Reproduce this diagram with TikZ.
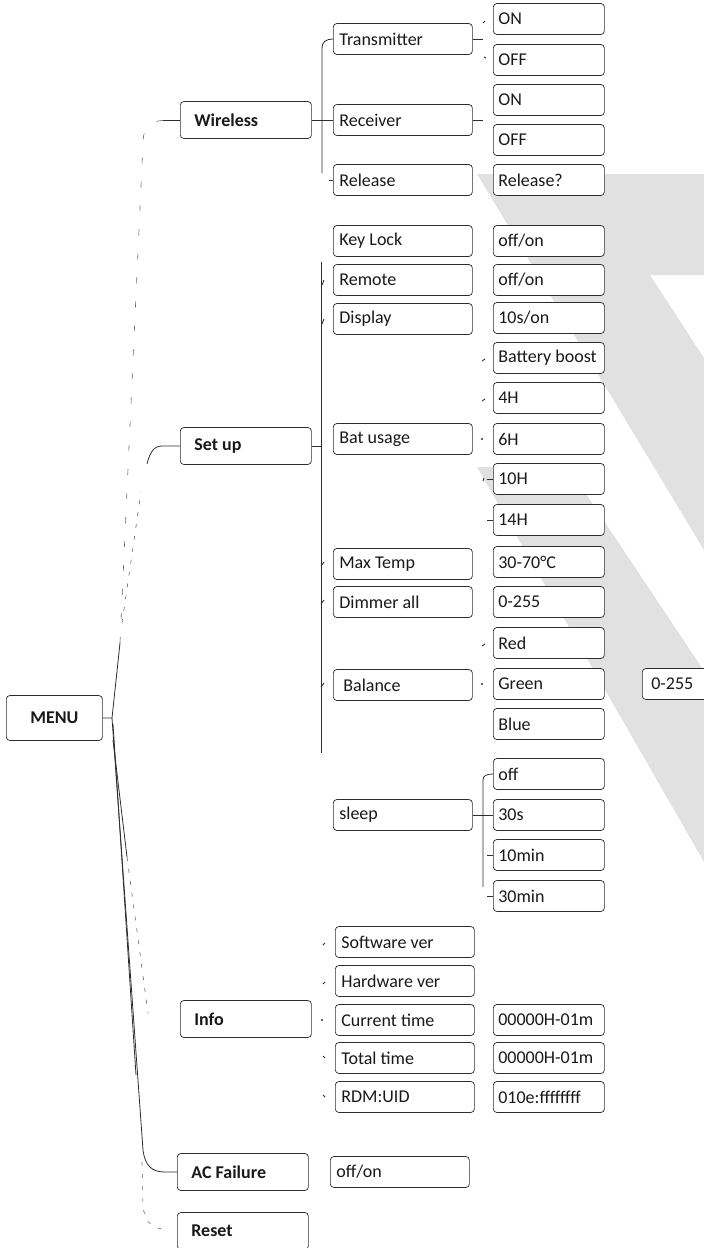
\documentclass[tikz,border=0pt]{standalone}
\usepackage{fontspec}
\setmainfont{Carlito}
\definecolor{bandgray}{RGB}{225,225,225}
\definecolor{ink}{RGB}{45,45,45}

\begin{document}
\begin{tikzpicture}[x=1pt,y=-1pt,
  box/.style={draw=ink,fill=white,line width=0.7pt,rounded corners=3.5pt,anchor=west,align=flush left,
    minimum height=31pt,inner ysep=0pt,text=black!90,font=\fontsize{18}{20}\selectfont},
  menubox/.style={box,font=\fontsize{18}{20}\bfseries\selectfont,minimum height=45pt,inner xsep=0pt,text width=96pt,align=flush center},
  headbox/.style={box,font=\fontsize{18}{20}\bfseries\selectfont,minimum height=37pt,inner xsep=14pt,text width=103pt},
  itembox/.style={box,inner xsep=6pt,text width=127pt},
  valbox/.style={box,inner xsep=5pt,text width=101pt},
  link/.style={draw=ink,line width=0.8pt},
  tick/.style={draw=ink,line width=0.9pt},
  faint/.style={draw=black!60,line width=0.6pt,dash pattern=on 6pt off 18pt},
  speck/.style={draw=black!60,line width=0.6pt,dash pattern=on 4pt off 8pt}]
\path[use as bounding box] (0,0) rectangle (704,1248);
\clip (0,0) rectangle (704,1248);
% GREY BANDS
\fill[bandgray] (477,174) -- (704,174) -- (704,275) -- (650,275) -- (704,358) -- (704,550) -- cycle;
\fill[bandgray] (477,467) -- (568,467) -- (704,671) -- (704,862) -- cycle;
% ROOT
\node[menubox] (menu) at (6,718) {MENU};
% MAIN BRANCHES
\node[headbox] (wireless) at (180,120) {Wireless};
\node[headbox] (setup) at (180,446) {Set up};
\node[headbox] (info) at (180,1019) {Info};
\node[headbox] (acfail) at (177,1172) {AC Failure};
\node[headbox] (reset) at (177,1231) {Reset};
% WIRELESS ITEMS
\node[itembox] (transmitter) at (333,39) {Transmitter};
\node[itembox] (receiver) at (333,120) {Receiver};
\node[itembox] (release) at (333,180) {Release};
\node[valbox] (txon) at (493,19) {ON};
\node[valbox] (txoff) at (493,60) {OFF};
\node[valbox] (rxon) at (493,100) {ON};
\node[valbox] (rxoff) at (493,140) {OFF};
\node[valbox] (relask) at (493,180) {Release?};
% SET UP ITEMS
\node[itembox] (keylock) at (333,241) {Key Lock};
\node[itembox] (remote) at (333,280) {Remote};
\node[itembox] (display) at (333,319) {Display};
\node[itembox] (batusage) at (333,439) {Bat usage};
\node[itembox] (maxtemp) at (333,564) {Max Temp};
\node[itembox] (dimmer) at (333,602) {Dimmer all};
\node[itembox] (balance) at (333,685) {\hspace*{4pt}Balance};
\node[itembox] (sleep) at (333,815) {sleep};
\node[valbox] (keyval) at (493,241) {off/on};
\node[valbox] (remval) at (493,280) {off/on};
\node[valbox] (dispval) at (493,318) {10s/on};
\node[valbox] (bboost) at (493,358) {Battery boost};
\node[valbox] (hfour) at (493,398) {4H};
\node[valbox] (hsix) at (493,439) {6H};
\node[valbox] (hten) at (493,479) {10H};
\node[valbox] (hfourteen) at (493,520) {14H};
\node[valbox] (tempval) at (493,562) {30-70°C};
\node[valbox] (dimval) at (493,602) {0-255};
\node[valbox] (red) at (493,643) {Red};
\node[valbox] (green) at (493,684) {Green};
\node[valbox] (blue) at (493,724) {Blue};
\node[valbox] (balval) at (642,684) {\hspace*{4pt}0-255};
\node[valbox] (slpoff) at (493,774) {off};
\node[valbox] (slpthirty) at (493,815) {30s};
\node[valbox] (slpten) at (493,855) {10min};
\node[valbox] (slpthirtymin) at (493,896) {30min};
% INFO ITEMS
\node[itembox] (swver) at (335,942) {Software ver};
\node[itembox] (hwver) at (335,981) {Hardware ver};
\node[itembox] (curtime) at (335,1020) {Current time};
\node[itembox] (tottime) at (335,1058) {Total time};
\node[itembox] (rdmuid) at (335,1097) {RDM:UID};
\node[valbox] (curval) at (493,1020) {00000H-01m};
\node[valbox] (totval) at (493,1058) {00000H-01m};
\node[valbox] (uidval) at (493,1097) {010e:ffffffff};
\node[itembox] (acval) at (330,1172) {off/on};
% ROOT CONNECTORS
\coordinate (hub) at (112,718);
\coordinate (upend) at (120,643);
\coordinate (infoend) at (148,1013);
\draw[link] (menu.east) -- (hub) -- (upend);
\draw[faint,rounded corners=18pt] (upend) -- (144,121) -- (wireless.west);
\draw[link] (wireless.west) -- ++(-17,0);
\draw[speck] (upend) ++(2,-20) -- (141,492);
\draw[link] (147,464) .. controls (150,452) and (154,446) .. (162,446) -- (setup.west);
\draw[link] (hub) -- (143,1150) .. controls (145,1166) and (152,1172) .. (165,1172) -- (acfail.west);
\draw[link] (hub) ++(1,6) -- (136,1075);
\draw[link] (hub) ++(1,22) -- (127,857);
\draw[speck] (127,857) -- (infoend);
\draw[speck] (142,1162) -- (143,1205) .. controls (144,1220) and (150,1227) .. (162,1229);
% WIRELESS CONNECTORS
\draw[link] (wireless.east) -- (receiver.west);
\draw[link] (322,173) -- (322,48) .. controls (322,42) and (326,39) .. (transmitter.west);
\draw[tick] (release.west) -- ++(-4,0);
\draw[link] (transmitter.east) -- ++(10,0);
\draw[link] (receiver.east) -- ++(10,0);
\draw[tick] (txon.west) ++(-10,4) -- ++(2,-2);
\draw[tick] (txoff.west) ++(-9,-3) -- ++(2,1);
% SET UP CONNECTORS
\draw[link] (setup.east) -- (321,446);
\draw[link] (321,262) -- (321,753);
\draw[tick] (remote.west) ++(-11,5) -- ++(2,-5);
\draw[tick] (display.west) ++(-11,5) -- ++(2,-5);
\draw[tick] (maxtemp.west) ++(-12,2) -- ++(3,-4);
\draw[tick] (dimmer.west) ++(-12,2) -- ++(3,-4);
\draw[tick] (balance.west) ++(-12,2) -- ++(3,-4);
\draw[tick] (bboost.west) ++(-11,3) -- ++(3,-2);
\draw[tick] (hfour.west) ++(-11,3) -- ++(3,-2);
\fill[ink] (hsix.west) ++(-11,0) circle (1.2pt);
\draw[tick] (hten.west) ++(-10,2) -- ++(1,-3);
\draw[tick] (hten.west) -- ++(-6,0);
\draw[tick] (hfourteen.west) -- ++(-6,0);
\draw[tick] (red.west) ++(-11,3) -- ++(3,-2);
\fill[ink] (green.west) ++(-11,0) circle (1.2pt);
\draw[link] (sleep.east) -- (slpthirty.west);
\draw[link] (483,887) -- (483,780) .. controls (483,776) and (486,774) .. (slpoff.west);
\draw[link] (slpten.west) -- ++(-6,0);
\draw[link] (slpthirtymin.west) -- ++(-6,0);
% INFO CONNECTORS
\draw[tick] (swver.west) ++(-12,3) -- ++(2,-2);
\draw[tick] (hwver.west) ++(-12,3) -- ++(2,-2);
\fill[ink] (curtime.west) ++(-13,0) circle (1.2pt);
\draw[tick] (tottime.west) ++(-12,-2) -- ++(2,2);
\draw[tick] (rdmuid.west) ++(-12,-2) -- ++(2,2);
\end{tikzpicture}
\end{document}
